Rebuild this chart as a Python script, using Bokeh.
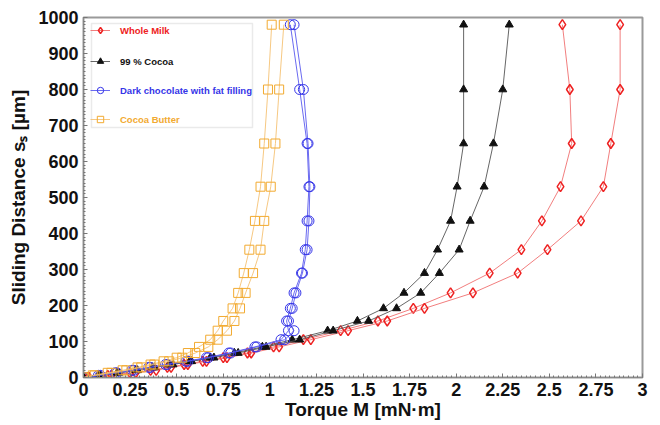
from bokeh.plotting import figure
from bokeh.models import Legend, LegendItem, FixedTicker, Range1d, BoxAnnotation
from bokeh.embed import file_html
from bokeh.resources import INLINE
import numpy as np

# ---- data ----
sliding = [980, 800, 650, 530, 435, 355, 290, 235, 192, 157, 130, 105, 85, 68, 55, 45, 36, 28, 20, 13, 6, 0]

milk_run1 = [2.57, 2.61, 2.62, 2.56, 2.46, 2.35, 2.18, 1.97, 1.77, 1.58, 1.38, 1.18, 1.02, 0.88, 0.75, 0.64, 0.54, 0.45, 0.36, 0.25, 0.13, 0.02]
milk_run2 = [2.88, 2.88, 2.83, 2.79, 2.67, 2.49, 2.33, 2.09, 1.83, 1.63, 1.42, 1.22, 1.05, 0.90, 0.77, 0.66, 0.56, 0.47, 0.39, 0.28, 0.15, 0.03]

cocoa_run1 = [2.04, 2.04, 2.04, 2.005, 1.97, 1.90, 1.83, 1.72, 1.61, 1.47, 1.31, 1.12, 0.96, 0.81, 0.68, 0.57, 0.46, 0.37, 0.28, 0.18, 0.08, 0.0]
cocoa_run2 = [2.285, 2.25, 2.20, 2.15, 2.075, 2.016, 1.91, 1.81, 1.68, 1.53, 1.34, 1.16, 0.98, 0.83, 0.70, 0.58, 0.48, 0.38, 0.29, 0.19, 0.09, 0.0]

dark_run1 = [1.11, 1.16, 1.20, 1.21, 1.20, 1.19, 1.17, 1.13, 1.11, 1.09, 1.10, 1.06, 0.92, 0.78, 0.66, 0.55, 0.44, 0.35, 0.26, 0.17, 0.08, 0.0]
dark_run2 = [1.13, 1.18, 1.205, 1.215, 1.21, 1.20, 1.175, 1.14, 1.12, 1.10, 1.13, 1.08, 0.93, 0.79, 0.67, 0.56, 0.45, 0.36, 0.27, 0.18, 0.09, 0.0]

butter_run1 = [1.01, 0.99, 0.97, 0.95, 0.92, 0.89, 0.86, 0.83, 0.80, 0.75, 0.72, 0.68, 0.62, 0.56, 0.50, 0.43, 0.36, 0.29, 0.21, 0.13, 0.05, 0.0]
butter_run2 = [1.075, 1.05, 1.03, 1.005, 0.97, 0.95, 0.91, 0.87, 0.84, 0.81, 0.77, 0.72, 0.67, 0.60, 0.53, 0.46, 0.38, 0.31, 0.23, 0.15, 0.06, 0.0]

series_names = ["Whole Milk", "99 % Cocoa", "Dark chocolate with fat filling", "Cocoa Butter"]

x_ticks = [0, 0.25, 0.5, 0.75, 1, 1.25, 1.5, 1.75, 2, 2.25, 2.5, 2.75, 3]
x_tick_labels = ["0", "0.25", "0.5", "0.75", "1", "1.25", "1.5", "1.75", "2", "2.25", "2.5", "2.75", "3"]
y_ticks = [0, 100, 200, 300, 400, 500, 600, 700, 800, 900, 1000]
y_tick_labels = ["0", "100", "200", "300", "400", "500", "600", "700", "800", "900", "1000"]

# ---- styles ----
FONT = "Liberation Sans"
styles = [
    dict(color="#ee2222", line="#f07070", marker="diamond", size=10, fill=None, lw=1.5),
    dict(color="#111111", line="#555555", marker="triangle", size=8, fill="#111111", lw=1),
    dict(color="#3535e8", line="#5a5aee", marker="circle", size=10, fill=None, lw=1),
    dict(color="#f2aa30", line="#f5c274", marker="square", size=9, fill=None, lw=1),
]
runs = [(milk_run1, milk_run2), (cocoa_run1, cocoa_run2), (dark_run1, dark_run2), (butter_run1, butter_run2)]

p = figure(width=660, height=425, output_backend="svg", toolbar_location=None,
           x_range=Range1d(0, 3), y_range=Range1d(0, 1000),
           min_border_left=83, min_border_right=18, min_border_top=17, min_border_bottom=48)
p.xgrid.visible = False
p.ygrid.visible = False
p.outline_line_color = "#9a9a9a"
p.outline_line_width = 2
p.background_fill_color = "white"
p.border_fill_color = "white"

legend_renderers = []
for (r1, r2), st in zip(runs, styles):
    first = None
    for xs in (r1, r2):
        lr = p.line(xs, sliding, line_color=st["line"], line_width=1, line_alpha=0.9)
        sr = p.scatter(xs, sliding, marker=st["marker"], size=st["size"], line_color=st["color"],
                       line_width=st["lw"], fill_color=st["fill"], fill_alpha=1 if st["fill"] else 0)
        if first is None:
            first = [lr, sr]
    legend_renderers.append(first)

# axes
for ax in (p.xaxis[0], p.yaxis[0]):
    ax.axis_line_color = "#8a8a8a"
    ax.axis_line_width = 1
    ax.major_tick_in = 4
    ax.major_tick_out = 0
    ax.minor_tick_in = 2
    ax.minor_tick_out = 0
    ax.major_tick_line_color = "#777777"
    ax.minor_tick_line_color = "#777777"
    ax.major_label_text_font = FONT
    ax.major_label_text_font_style = "bold"
    ax.major_label_text_font_size = "18px"
    ax.major_label_text_color = "#111111"
    ax.axis_label_text_font = FONT
    ax.axis_label_text_font_style = "bold"
    ax.axis_label_text_font_size = "19px"
    ax.axis_label_text_color = "#111111"

p.xaxis.ticker = FixedTicker(ticks=x_ticks, minor_ticks=list(np.round(np.arange(0, 3.0001, 0.025), 4)))
p.yaxis.ticker = FixedTicker(ticks=y_ticks, minor_ticks=list(range(0, 1001, 10)))
p.xaxis.major_label_overrides = {t: l for t, l in zip(x_ticks, x_tick_labels)}
p.yaxis.major_label_overrides = {t: l for t, l in zip(y_ticks, y_tick_labels)}
p.xaxis.major_label_standoff = 5
p.yaxis.major_label_standoff = 5
p.xaxis.axis_label = "Torque M [mN·m]"
p.yaxis.axis_label = "Sliding Distance sₛ [µm]"
p.xaxis.axis_label_standoff = 0
p.yaxis.axis_label_standoff = 6

# legend frame (screen units measured from the frame's bottom-left)
box = BoxAnnotation(left=8, right=169, top=354, bottom=250,
                    left_units="screen", right_units="screen", top_units="screen", bottom_units="screen",
                    fill_alpha=0, line_color="#bbbbbb", line_width=1.5)
p.add_layout(box)

legend_y = [339, 308, 279, 250]
for name, rends, st, ly in zip(series_names, legend_renderers, styles, legend_y):
    leg = Legend(items=[LegendItem(label=name, renderers=rends)], location=(7, ly),
                 label_text_font=FONT, label_text_font_style="bold", label_text_font_size="9.5px",
                 label_text_color=st["color"], border_line_alpha=0, background_fill_alpha=0,
                 padding=0, margin=0, spacing=0, glyph_width=20, glyph_height=16, label_height=16,
                 label_standoff=10)
    p.add_layout(leg)

open("out.html", "w").write(file_html(p, INLINE))
